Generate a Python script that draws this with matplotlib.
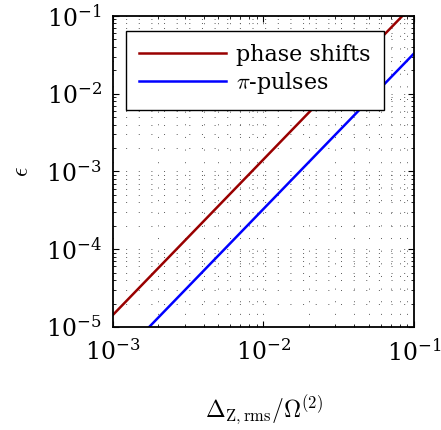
import numpy as np
import matplotlib
matplotlib.use('Agg')
import matplotlib.pyplot as plt

# values (straight lines on log-log axes)
x_phase = [1e-3, 1e-2, 1e-1]
y_phase = [1.43e-5, 1.43e-3, 1.43e-1]
x_pi = [1e-3, 1e-2, 1e-1]
y_pi = [3.3e-6, 3.3e-4, 3.3e-2]

plt.rcParams['font.family'] = 'DejaVu Serif'
plt.rcParams['mathtext.fontset'] = 'cm'

fig = plt.figure(figsize=(4.41, 4.30), dpi=100)
ax = fig.add_axes([0.256, 0.2395, 0.683, 0.7235])

ax.plot(x_phase, y_phase, color='#990000', lw=1.8, label='phase shifts')
ax.plot(x_pi, y_pi, color='#0000ff', lw=1.8, label=r'$\pi$-pulses')

ax.set_xscale('log')
ax.set_yscale('log')
ax.set_xlim(1e-3, 1e-1)
ax.set_ylim(1e-5, 1e-1)

ax.grid(True, which='both', color='0.35', ls=(0, (1, 12)), lw=0.7)
ax.tick_params(which='both', direction='in', top=True, right=True, labelsize=17)
ax.tick_params(axis='x', which='major', pad=9)
ax.tick_params(axis='y', which='major', pad=8)
ax.tick_params(which='major', length=4, width=0.8)
ax.tick_params(which='minor', length=2, width=0.6)
for s in ax.spines.values():
    s.set_linewidth(1.3)

ax.set_xlabel(r'$\Delta_{\mathrm{Z,rms}}/\Omega^{(2)}$', fontsize=17, labelpad=20)
ax.set_ylabel(r'$\epsilon$', fontsize=17, labelpad=9)

leg = ax.legend(loc='upper left', bbox_to_anchor=(0.043, 0.952), borderaxespad=0,
                fontsize=16, fancybox=False, framealpha=1, edgecolor='k',
                handlelength=3.9, handletextpad=0.45, borderpad=0.6,
                labelspacing=0.18)
leg.get_frame().set_linewidth(1.0)

fig.savefig('out.png', dpi=100)
